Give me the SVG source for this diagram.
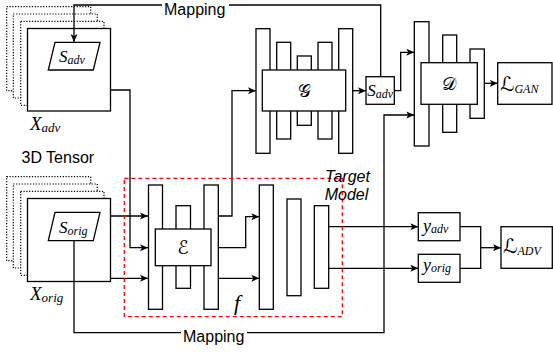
<svg xmlns="http://www.w3.org/2000/svg" width="553" height="352" viewBox="0 0 553 352">
<style>
.b{fill:#fff;stroke:#000;stroke-width:1.3}
.d{fill:#fff;stroke:#000;stroke-width:1.2;stroke-dasharray:1.2,1.6}
.c{fill:none;stroke:#000;stroke-width:1.3}
.m{font-family:"Liberation Serif","DejaVu Serif",serif;font-style:italic;fill:#000}
.s{font-family:"Liberation Sans",Arial,sans-serif;fill:#000;font-size:16px}
.cal{font-family:"DejaVu Sans","DejaVu Serif","Noto Sans",sans-serif;fill:#000}
</style>
<defs>
<marker id="a" markerWidth="9" markerHeight="8" refX="8" refY="4" orient="auto" markerUnits="userSpaceOnUse">
<path d="M0,0.5 L8,4 L0,7.5 L2,4 Z" fill="#000"/>
</marker>
<clipPath id="clipSadt"><rect x="366" y="76.7" width="28.3" height="27.6"/></clipPath>
</defs>
<rect width="553" height="352" fill="#fff"/>

<g id="xadv">
<rect class="d" x="6.7" y="6.7" width="84" height="84"/>
<rect class="d" x="13.3" y="14" width="84" height="84"/>
<rect class="d" x="20.7" y="21.3" width="83.3" height="84"/>
<rect class="b" x="27.5" y="28.5" width="83" height="82.5"/>
<text class="m" x="30" y="130" font-size="19">X<tspan font-size="13" dy="2">adv</tspan></text>
</g>
<g id="sadv">
<polygon class="b" points="48.3,70 55,42.3 100,42.3 93.3,70"/>
<text class="m" x="59" y="62" font-size="17">S<tspan font-size="12" dy="2">adv</tspan></text>
</g>
<text class="s" x="21.5" y="163">3D Tensor</text>

<g id="xorig">
<rect class="d" x="6.7" y="176.7" width="84" height="84"/>
<rect class="d" x="13.3" y="184" width="84" height="84"/>
<rect class="d" x="20.7" y="191.3" width="83.3" height="84"/>
<rect class="b" x="27.5" y="198.5" width="83" height="83"/>
<text class="m" x="30" y="299.5" font-size="19">X<tspan font-size="13" dy="2">orig</tspan></text>
</g>
<g id="sorig">
<polygon class="b" points="48.3,240.7 55,212.3 100,212.3 93.3,240.7"/>
<text class="m" x="59" y="233" font-size="17">S<tspan font-size="12" dy="2">orig</tspan></text>
</g>

<g id="connectors">
<path class="c" d="M380.7,76.7 V5 H74 V42" marker-end="url(#a)"/>
<path class="c" d="M110.5,90 H130 V247.7 H148" marker-end="url(#a)"/>
<path class="c" d="M110.5,216 H148" marker-end="url(#a)"/>
<path class="c" d="M110.5,278.3 H148" marker-end="url(#a)"/>
<path class="c" d="M218.3,216 H232 V90.7 H256" marker-end="url(#a)"/>
<path class="c" d="M218.3,247.7 H245.7 V216.7 H259.3" marker-end="url(#a)"/>
<path class="c" d="M218.3,278.3 H259.3" marker-end="url(#a)"/>
<path class="c" d="M352.7,90.7 H366" marker-end="url(#a)"/>
<path class="c" d="M394.3,90.7 H400.7 V52.3 H414.3" marker-end="url(#a)"/>
<path class="c" d="M74,240.7 V332.7 H384 V115 H414.3" marker-end="url(#a)"/>
<path class="c" d="M484.3,83.3 H497.7" marker-end="url(#a)"/>
<path class="c" d="M328.7,226.7 H418.3" marker-end="url(#a)"/>
<path class="c" d="M328.7,268.3 H418.3" marker-end="url(#a)"/>
<path class="c" d="M460,226.7 H480.7 V268.3 H460"/>
<path class="c" d="M480.7,247.7 H501" marker-end="url(#a)"/>
<rect x="162" y="0" width="67" height="16" fill="#fff"/>
<text class="s" x="164" y="14.5" font-size="15">Mapping</text>
<rect x="181" y="328" width="66" height="16" fill="#fff"/>
<text class="s" x="183" y="341.5">Mapping</text>
</g>

<g id="encoder">
<rect class="b" x="148.5" y="185" width="14" height="124.3"/>
<rect class="b" x="176" y="205.7" width="14.5" height="82.6"/>
<rect class="b" x="204" y="185" width="14.3" height="124.3"/>
<rect class="b" x="155.3" y="229" width="55.7" height="36.7"/>
<text class="cal" x="183" y="254" font-size="19" text-anchor="middle">ℰ</text>
</g>

<g id="targetmodel">
<rect class="b" x="259.3" y="185" width="14" height="124.3"/>
<rect class="b" x="287" y="199" width="14" height="96.7"/>
<rect class="b" x="314.3" y="205.7" width="14.4" height="82.6"/>
<rect x="124.3" y="178.3" width="218" height="138.4" fill="none" stroke="#f00" stroke-width="1.3" stroke-dasharray="4,3"/>
<text class="m" x="237" y="310" font-size="22" text-anchor="middle">f</text>
<text class="s" x="347.5" y="181.5" text-anchor="middle" font-style="italic">Target</text>
<text class="s" x="346.5" y="200" text-anchor="middle" font-style="italic">Model</text>
</g>

<g id="generator">
<rect class="b" x="256" y="28.7" width="14" height="124.6"/>
<rect class="b" x="276.7" y="42.3" width="14" height="96.7"/>
<rect class="b" x="297.3" y="56" width="14" height="69.3"/>
<rect class="b" x="318" y="42.3" width="14" height="96.7"/>
<rect class="b" x="338.7" y="28.7" width="14" height="124.6"/>
<rect class="b" x="262.3" y="70" width="83.4" height="41"/>
<text class="cal" x="304" y="97" font-size="18" text-anchor="middle">𝒢</text>
</g>

<g id="sadt">
<rect class="b" x="366" y="76.7" width="28.3" height="27.6"/>
<text class="m" x="367.3" y="96" font-size="17" clip-path="url(#clipSadt)">S<tspan font-size="12" dy="2">adv</tspan></text>
</g>

<g id="discriminator">
<rect class="b" x="414.3" y="21.7" width="14.7" height="124.3"/>
<rect class="b" x="442.7" y="35" width="14" height="97.3"/>
<rect class="b" x="470" y="49" width="14.3" height="69.3"/>
<rect class="b" x="421" y="62.7" width="56.3" height="41.6"/>
<text class="cal" x="449" y="90" font-size="18" text-anchor="middle">𝒟</text>
</g>

<g id="lgan">
<rect class="b" x="497.7" y="62.7" width="54.3" height="41.6"/>
<text class="cal" x="500" y="91" font-size="20">ℒ<tspan class="m" font-size="12" dy="2">GAN</tspan></text>
</g>

<g id="yadv">
<rect class="b" x="418.3" y="212.7" width="41.7" height="28"/>
<text class="m" x="423" y="231.5" font-size="18">y<tspan font-size="12" dy="1">adv</tspan></text>
</g>
<g id="yorig">
<rect class="b" x="418.3" y="254.3" width="41.7" height="28"/>
<text class="m" x="423" y="270.5" font-size="18">y<tspan font-size="12" dy="1">orig</tspan></text>
</g>
<g id="ladv">
<rect class="b" x="501" y="226.7" width="51.3" height="41.6"/>
<text class="cal" x="503" y="253" font-size="20">ℒ<tspan class="m" font-size="12" dy="2">ADV</tspan></text>
</g>
</svg>
